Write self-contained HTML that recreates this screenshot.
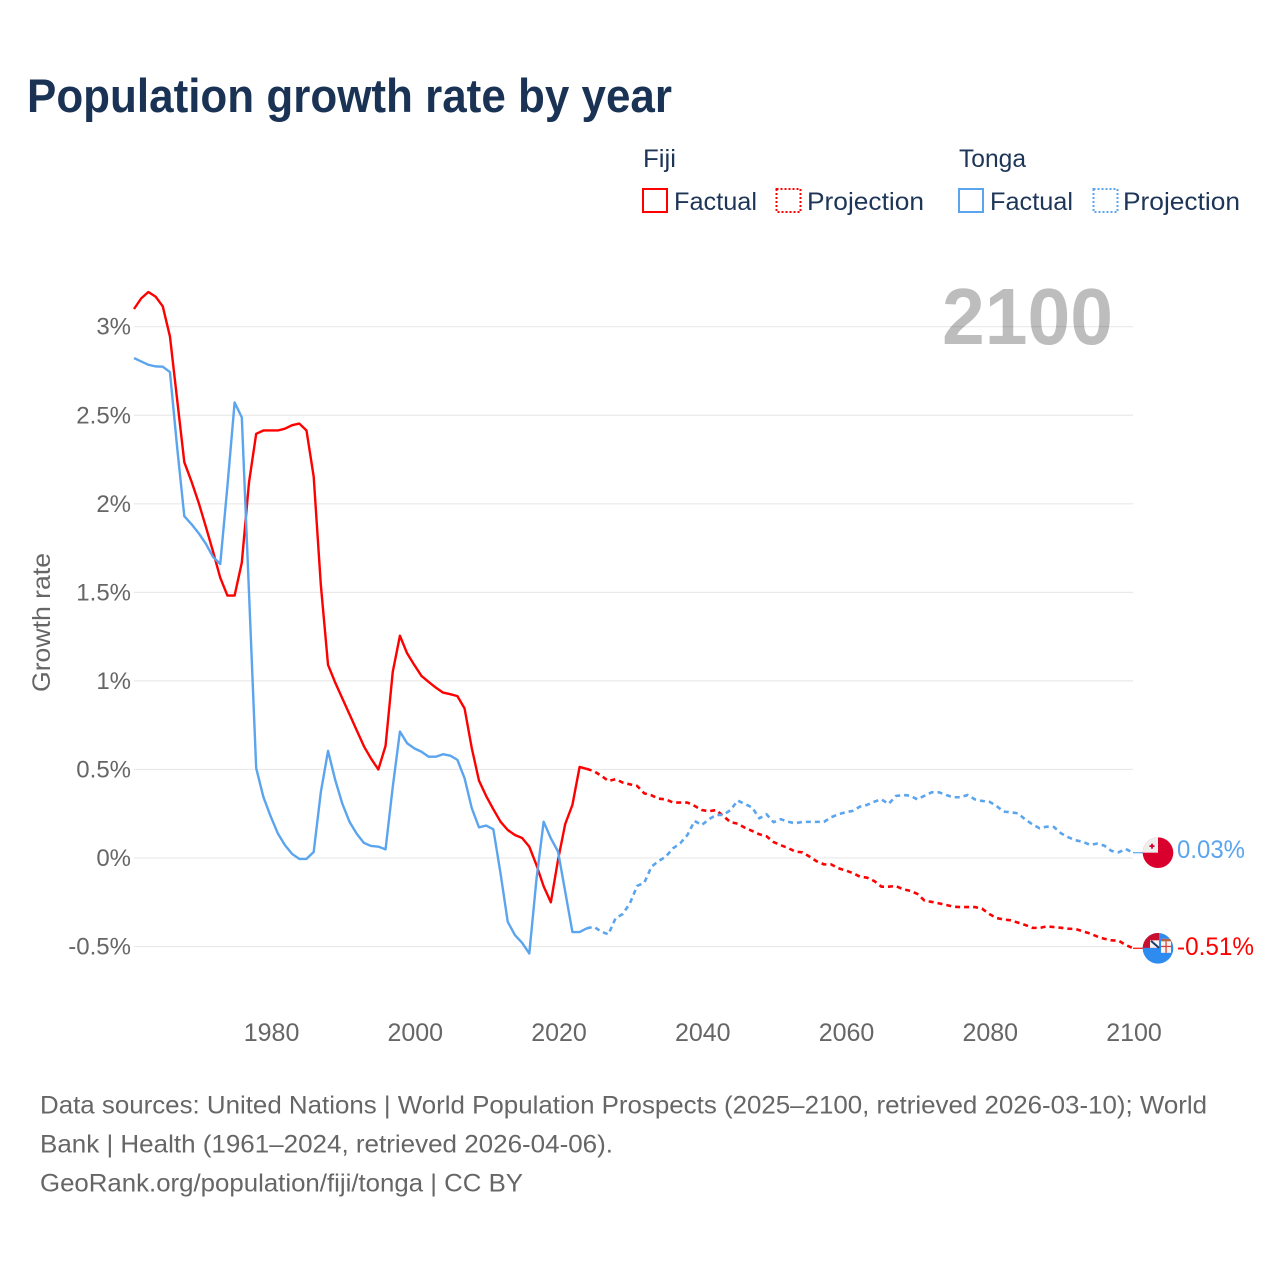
<!DOCTYPE html>
<html lang="en">
<head>
<meta charset="utf-8">
<title>Population growth rate by year</title>
<style>
  html, body { margin: 0; padding: 0; background: #fff; }
  svg { display: block; font-family: "Liberation Sans", sans-serif; }
</style>
</head>
<body>
<svg id="chart" width="1280" height="1280" viewBox="0 0 1280 1280" xmlns="http://www.w3.org/2000/svg">
  <defs>
    <clipPath id="flag-clip"><circle cx="0" cy="0" r="15.3"></circle></clipPath>
  </defs>
  <rect width="1280" height="1280" fill="#ffffff"></rect>

  <text x="27" y="112" font-size="47" font-weight="700" fill="#1a3355" textLength="645" lengthAdjust="spacingAndGlyphs">Population growth rate by year</text>

  <g font-size="25" fill="#1d3557">
    <text x="643" y="167" textLength="33" lengthAdjust="spacingAndGlyphs">Fiji</text>
    <text x="959" y="167" textLength="67" lengthAdjust="spacingAndGlyphs">Tonga</text>
    <rect x="643" y="189" width="24" height="23" fill="none" stroke="#ff0000" stroke-width="2"></rect>
    <text x="674" y="210" textLength="83" lengthAdjust="spacingAndGlyphs">Factual</text>
    <rect x="776.5" y="189" width="24" height="23" fill="none" stroke="#ff0000" stroke-width="2" stroke-dasharray="2 2"></rect>
    <text x="807" y="210" textLength="117" lengthAdjust="spacingAndGlyphs">Projection</text>
    <rect x="959" y="189" width="24" height="23" fill="none" stroke="#5ba4ee" stroke-width="2"></rect>
    <text x="990" y="210" textLength="83" lengthAdjust="spacingAndGlyphs">Factual</text>
    <rect x="1093.5" y="189" width="24" height="23" fill="none" stroke="#5ba4ee" stroke-width="2" stroke-dasharray="2 2"></rect>
    <text x="1123" y="210" textLength="117" lengthAdjust="spacingAndGlyphs">Projection</text>
  </g>

  <g id="grid"></g>
  <g id="y-ticks" font-size="24" fill="#666666" text-anchor="end"></g>
  <g id="x-ticks" font-size="25" fill="#666666" text-anchor="middle"></g>

  <text transform="translate(50,692) rotate(-90)" font-size="25" fill="#666666" textLength="139" lengthAdjust="spacingAndGlyphs">Growth rate</text>

  <text x="942" y="344" font-size="80" font-weight="700" fill="#000000" fill-opacity="0.26" textLength="171" lengthAdjust="spacingAndGlyphs">2100</text>

  <g id="series"></g>

  <g id="flag-tonga" clip-path="url(#flag-clip)">
    <rect x="-16" y="-16" width="32" height="32" fill="#d9002e"></rect>
    <rect x="-16" y="-16" width="16" height="16" fill="#eeeeee"></rect>
    <rect x="-8.5" y="-7.5" width="5" height="1.8" fill="#d9002e"></rect>
    <rect x="-6.9" y="-9" width="1.8" height="5" fill="#d9002e"></rect>
  </g>
  <g id="flag-fiji" clip-path="url(#flag-clip)">
    <rect x="-16" y="-16" width="32" height="32" fill="#2e8bf0"></rect>
    <rect x="-16" y="-16" width="17" height="15.5" fill="#c8102e"></rect>
    <rect x="-8" y="-8" width="9" height="7.5" fill="#f4f4f4"></rect>
    <line x1="-7" y1="-7.5" x2="1" y2="-0.5" stroke="#1d3a70" stroke-width="2"></line>
    <rect x="3" y="-9.5" width="10" height="14" fill="#f7f3f0"></rect>
    <rect x="3" y="-9.5" width="10" height="2.5" fill="#b5654a"></rect>
    <rect x="7.4" y="-7" width="1.3" height="11.5" fill="#d3413a"></rect>
    <rect x="3" y="-2.5" width="10" height="1.3" fill="#d3413a"></rect>
  </g>

  <g id="end-labels" font-size="25"></g>

  <g font-size="25" fill="#666666">
    <text x="40" y="1113.5" textLength="1167" lengthAdjust="spacingAndGlyphs">Data sources: United Nations | World Population Prospects (2025–2100, retrieved 2026-03-10); World</text>
    <text x="40" y="1152.5" textLength="573" lengthAdjust="spacingAndGlyphs">Bank | Health (1961–2024, retrieved 2026-04-06).</text>
    <text x="40" y="1191.5" textLength="483" lengthAdjust="spacingAndGlyphs">GeoRank.org/population/fiji/tonga | CC BY</text>
  </g>
</svg>

<script>
const factualStartYear = 1961;
const projectionStartYear = 2024;
const xTickYears = [1980, 2000, 2020, 2040, 2060, 2080, 2100];
const yTickValues = [3, 2.5, 2, 1.5, 1, 0.5, 0, -0.5];
const yTickLabels = ["3%", "2.5%", "2%", "1.5%", "1%", "0.5%", "0%", "-0.5%"];

const fijiFactual = [
  3.10, 3.16, 3.196, 3.17, 3.115, 2.945, 2.59, 2.235, 2.126, 2.006,
  1.87, 1.73, 1.583, 1.482, 1.482, 1.668, 2.12, 2.395, 2.414, 2.414,
  2.414, 2.424, 2.444, 2.453, 2.414, 2.154, 1.54, 1.09, 0.99, 0.90,
  0.81, 0.72, 0.63, 0.56, 0.50, 0.633, 1.05, 1.255, 1.156, 1.09,
  1.028, 0.994, 0.962, 0.934, 0.925, 0.914, 0.844, 0.62, 0.437, 0.35,
  0.275, 0.205, 0.158, 0.13, 0.113, 0.064, -0.04, -0.16, -0.25, -0.01,
  0.192, 0.30, 0.514, 0.503
];
const tongaFactual = [
  2.823, 2.804, 2.785, 2.776, 2.774, 2.744, 2.32, 1.93, 1.885, 1.834,
  1.774, 1.70, 1.66, 2.1, 2.572, 2.488, 1.5, 0.508, 0.345, 0.237,
  0.14, 0.073, 0.023, -0.005, -0.005, 0.034, 0.373, 0.605, 0.44, 0.305,
  0.203, 0.136, 0.085, 0.068, 0.064, 0.049, 0.4, 0.714, 0.648, 0.619,
  0.60, 0.572, 0.572, 0.586, 0.578, 0.554, 0.45, 0.281, 0.173, 0.183,
  0.162, -0.087, -0.36, -0.435, -0.479, -0.539, -0.12, 0.205, 0.111, 0.036,
  -0.19, -0.418, -0.418, -0.397
];
const fijiProjection = [
  0.503,
  0.49, 0.465, 0.435, 0.445, 0.426, 0.416, 0.407, 0.365, 0.354, 0.335,
  0.331, 0.313, 0.313, 0.313, 0.294, 0.271, 0.264, 0.271, 0.237, 0.202,
  0.194, 0.171, 0.153, 0.134, 0.123, 0.09, 0.072, 0.057, 0.036, 0.032,
  0.008, -0.019, -0.036, -0.036, -0.058, -0.07, -0.085, -0.105, -0.111, -0.13,
  -0.162, -0.162, -0.158, -0.177, -0.185, -0.203, -0.241, -0.248, -0.256, -0.265,
  -0.275, -0.277, -0.277, -0.277, -0.286, -0.316, -0.339, -0.347, -0.352, -0.365,
  -0.378, -0.394, -0.395, -0.386, -0.39, -0.394, -0.399, -0.401, -0.414, -0.426,
  -0.443, -0.456, -0.465, -0.467, -0.491, -0.51
];
const tongaProjection = [
  -0.397,
  -0.388, -0.416, -0.431, -0.341, -0.316, -0.256, -0.158, -0.14, -0.049, -0.017,
  0.008, 0.055, 0.083, 0.13, 0.209, 0.186, 0.219, 0.243, 0.243, 0.271,
  0.324, 0.305, 0.286, 0.224, 0.247, 0.202, 0.219, 0.205, 0.196, 0.204,
  0.204, 0.204, 0.204, 0.23, 0.247, 0.258, 0.266, 0.29, 0.30, 0.318,
  0.331, 0.305, 0.35, 0.356, 0.352, 0.331, 0.352, 0.371, 0.371, 0.356,
  0.343, 0.343, 0.356, 0.331, 0.322, 0.318, 0.294, 0.262, 0.258, 0.252,
  0.218, 0.19, 0.168, 0.177, 0.175, 0.139, 0.117, 0.10, 0.092, 0.074,
  0.081, 0.07, 0.04, 0.032, 0.051, 0.03
];
const fijiEndLabel = "-0.51%";
const tongaEndLabel = "0.03%";

const NS = "http://www.w3.org/2000/svg";
const RED = "#ff0000";
const BLUE = "#5ba4ee";

function xScale(year) { return 134 + (year - 1961) * (999 / 139); }
function yScale(value) { return 858 - value * 177.1; }

function make(tag, attrs, parent) {
  const el = document.createElementNS(NS, tag);
  for (const key in attrs) el.setAttribute(key, attrs[key]);
  parent.appendChild(el);
  return el;
}
function pathFrom(values, startYear) {
  return values.map(function (v, i) {
    return (i ? "L" : "M") + xScale(startYear + i).toFixed(2) + " " + yScale(v).toFixed(2);
  }).join(" ");
}

const gridGroup = document.getElementById("grid");
const yTickGroup = document.getElementById("y-ticks");
yTickValues.forEach(function (value, i) {
  const line = make("line", { x1: 134, x2: 1133, y1: yScale(value), y2: yScale(value), stroke: "#e9e9e9", "stroke-width": 1.2 }, gridGroup);
  
  
  const label = make("text", { x: 131, y: yScale(value) + 8 }, yTickGroup);
  
  
  label.textContent = yTickLabels[i];
});

const xTickGroup = document.getElementById("x-ticks");
xTickYears.forEach(function (year) {
  const label = make("text", { x: xScale(year) + 1, y: 1041 }, xTickGroup);
  
  
  label.textContent = String(year);
});

const seriesGroup = document.getElementById("series");
function drawSeries(factual, projection, color, nameFactual, nameProjection, nameLeader) {
  const solid = make("path", { d: pathFrom(factual, factualStartYear), fill: "none", stroke: color, "stroke-width": 2.4, "stroke-linejoin": "round" }, seriesGroup);
  
  
  const dashed = make("path", { d: pathFrom(projection, projectionStartYear), fill: "none", stroke: color, "stroke-width": 2.6, "stroke-dasharray": "5 4", "stroke-linejoin": "round" }, seriesGroup);
  
  
  const lastY = yScale(projection[projection.length - 1]);
  const leader = make("line", { x1: 1133, x2: 1143, y1: lastY, y2: lastY, stroke: color, "stroke-width": 1.4, "stroke-opacity": 0.85 }, seriesGroup);
  
  
}
drawSeries(fijiFactual, fijiProjection, RED, "line-fiji-factual", "line-fiji-projection", "leader-fiji");
drawSeries(tongaFactual, tongaProjection, BLUE, "line-tonga-factual", "line-tonga-projection", "leader-tonga");

const fijiLast = fijiProjection[fijiProjection.length - 1];
const tongaLast = tongaProjection[tongaProjection.length - 1];
document.getElementById("flag-fiji").setAttribute("transform", "translate(1158," + yScale(fijiLast) + ")");
document.getElementById("flag-tonga").setAttribute("transform", "translate(1158," + yScale(tongaLast) + ")");

const endGroup = document.getElementById("end-labels");
const fijiText = make("text", { x: 1177, y: yScale(fijiLast) + 6.7, fill: RED, textLength: 77, lengthAdjust: "spacingAndGlyphs" }, endGroup);


fijiText.textContent = fijiEndLabel;
const tongaText = make("text", { x: 1177, y: yScale(tongaLast) + 5.5, fill: BLUE, textLength: 68, lengthAdjust: "spacingAndGlyphs" }, endGroup);


tongaText.textContent = tongaEndLabel;
</script>
</body>
</html>
